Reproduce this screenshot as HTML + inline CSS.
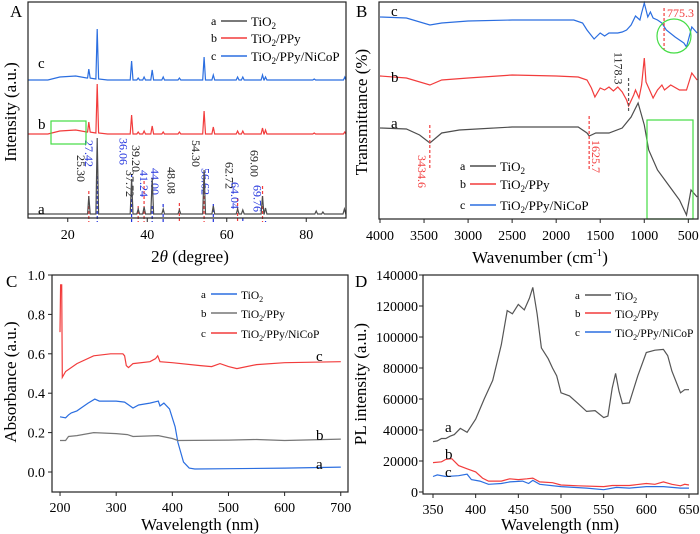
<!DOCTYPE html>
<html><head><meta charset="utf-8"><style>
html,body{margin:0;padding:0;background:#fff;}
svg{display:block;font-family:"Liberation Serif",serif;}
</style></head><body>
<svg id="fig" width="700" height="534" viewBox="0 0 700 534"></svg>
<script>
// ---------- DATA ----------
const xrdAPeakPos=[25.3,27.42,36.06,37.72,39.2,41.24,44.0,48.08,54.3,56.62,62.72,64.04,69.0,69.76,82.5,84.2,89.6];
const xrdAPeakH=[18,76,35,5,7,36,5,4,44,8,5,4,18,6,3,2,5];
const xrdBPeakPos=[25.3,27.42,36.06,37.72,39.2,41.24,44.0,48.08,54.3,56.62,62.72,64.04,69.0,69.76,82.0,89.7];
const xrdBPeakH=[10,49,19,2,3,8,2,2,23,7,3,3,6,4,1,2];
const xrdCPeakPos=[25.3,27.42,36.06,37.72,39.2,41.24,44.0,48.08,54.3,56.62,62.72,64.04,69.0,69.76,82.0,89.7];
const xrdCPeakH=[9,50,19,2,3,10,3,2,23,5,3,3,5,3,1,3];
const xrdBaseX=[10,15,18,22,25,30,50,90];
const xrdABase=[4,4,4,4,4,4,4,4];
const xrdBBase=[84,84,87,88,86,84,84,84];
const xrdCBase=[138,138,141,142,140,138,138,138];
const xrdLabels=["25.30","27.42","36.06","37.72","39.20","41.24","44.00","48.08","54.30","56.62","62.72","64.04","69.00","69.76"];
const xrdLabelPos=[25.3,27.42,36.06,37.72,39.2,41.24,44.0,48.08,54.3,56.62,62.72,64.04,69.0,69.76];
const xrdLabelTop=[155,140,138,170,145,170,168,167,140,168,162,182,150,185];
const xrdLabelBlue=[0,1,1,0,0,1,1,0,0,1,0,1,0,1];
const xrdTicks=[20,40,60,80];
const ftX_a=[4000,3700,3550,3434,3300,3100,2500,1750,1650,1625,1550,1400,1250,1150,1070,1000,950,850,700,600,520,470,400];
const ftY_a=[91,90,84,76,86,89,92,92,86,83,86,86,91,102,116,94,69,49,31,19,4,29,22];
const ftX_b=[4000,3700,3434,3300,3000,2500,2000,1750,1650,1600,1560,1500,1450,1400,1350,1300,1250,1200,1178,1120,1100,1060,1030,1000,980,950,900,850,800,770,700,600,520,460,400];
const ftY_b=[143,141,134,139,141,144,143,142,139,131,122,131,129,132,128,132,127,119,113,124,129,121,134,161,137,131,121,129,134,129,134,129,129,146,139];
const ftX_c=[4000,3700,3434,3300,3000,2500,1800,1700,1650,1570,1500,1450,1400,1300,1250,1200,1150,1100,1050,1030,1000,960,930,900,850,800,750,650,550,520,460,400];
const ftY_c=[202,201,194,196,198,199,199,196,189,180,186,183,186,186,187,189,194,203,199,206,216,202,207,201,199,196,189,182,176,172,192,186];
const ftTicks=[4000,3500,3000,2500,2000,1500,1000,500];
const uvX_a=[200,210,215,220,230,240,250,262,270,300,315,330,340,360,375,378,385,395,405,410,420,430,440,500,600,700];
const uvY_a=[0.28,0.275,0.29,0.30,0.31,0.33,0.35,0.37,0.36,0.36,0.355,0.325,0.34,0.35,0.36,0.335,0.35,0.32,0.23,0.15,0.05,0.02,0.015,0.017,0.02,0.025];
const uvX_b=[200,210,215,230,260,300,320,330,375,400,410,500,550,600,700];
const uvY_b=[0.16,0.16,0.18,0.185,0.2,0.195,0.19,0.18,0.185,0.17,0.16,0.162,0.165,0.16,0.167];
const uvX_c=[200,201,203,204,210,230,260,290,312,315,318,322,330,360,370,374,378,400,450,470,485,500,515,550,600,700];
const uvY_c=[0.71,0.95,0.95,0.48,0.51,0.55,0.59,0.60,0.60,0.59,0.54,0.53,0.55,0.56,0.575,0.59,0.56,0.555,0.54,0.535,0.55,0.535,0.525,0.545,0.555,0.56];
const uvXTicks=[200,300,400,500,600,700];
const uvYTicks=[0.0,0.2,0.4,0.6,0.8,1.0];
const plX_a=[350,355,360,365,370,375,382,390,400,410,420,430,437,443,450,457,463,467,472,477,485,490,495,500,510,520,530,540,550,555,560,564,568,572,580,590,600,610,620,625,630,640,645,650];
const plY_a=[32500,33000,34500,34500,36000,37000,41000,38500,47000,60000,72000,95000,117000,115000,121000,117500,125000,132000,115000,93000,86000,80000,75000,64000,62000,57000,52000,52500,48000,49000,67000,76500,65000,57000,57500,75000,90000,91500,92000,88000,78000,64000,66000,66000];
const plX_b=[350,360,365,372,380,390,400,408,415,430,440,450,460,467,475,490,500,520,550,560,580,600,610,620,630,640,645,650];
const plY_b=[19000,19500,21000,21500,17000,15000,13000,9000,7000,7000,8500,8000,8500,9000,6500,6000,4500,4000,3500,4200,4200,5500,5000,6500,5000,4000,5000,4500];
const plX_c=[350,355,365,380,390,395,405,415,430,440,455,462,467,475,500,530,550,565,580,600,620,640,650];
const plY_c=[10000,11000,10000,10500,11500,8000,7000,5000,5500,6500,7000,5500,7500,5000,3500,2500,1500,3000,2500,3500,3500,2500,2500];
const plXTicks=[350,400,450,500,550,600,650];
const plYTicks=[0,20000,40000,60000,80000,100000,120000,140000];

// ---------- HELPERS ----------
const NS="http://www.w3.org/2000/svg";
const svg=document.getElementById('fig');
const GRAY="#4d4d4d",RED="#f23c3c",BLUE="#2b6ee0",GREEN="#44dd44";
function mk(tag,attrs,parent){const e=document.createElementNS(NS,tag);for(const k in attrs)e.setAttribute(k,attrs[k]);(parent||svg).appendChild(e);return e;}
function txt(s,attrs,parent){const e=mk('text',attrs,parent);e.textContent=s;return e;}
function lin(d0,d1,r0,r1){return v=>r0+(v-d0)*(r1-r0)/(d1-d0);}
function pathD(xs,ys,sx,sy){return xs.map((x,i)=>(i?'L':'M')+sx(x).toFixed(1)+','+sy(ys[i]).toFixed(1)).join('');}
function sub(t,s){
  const parts=s.split('2');
  t.appendChild(document.createTextNode(parts[0]));
  const ts=document.createElementNS(NS,'tspan');ts.setAttribute('font-size','0.7em');ts.setAttribute('dy','3');ts.textContent='2';t.appendChild(ts);
  const ts2=document.createElementNS(NS,'tspan');ts2.setAttribute('dy','-3');ts2.textContent=parts.slice(1).join('2');t.appendChild(ts2);
}
function legend(g,x,ys,names,colors,fs,tfs){
  names.forEach((n,i)=>{
    const e=mk('g',{},g);
    
    
    txt(['a','b','c'][i],{x:x,y:ys[i]+4,'font-size':fs},e);
    mk('line',{x1:x+10,x2:x+36,y1:ys[i],y2:ys[i],stroke:colors[i],'stroke-width':1.5},e);
    const t=mk('text',{x:x+40,y:ys[i]+5,'font-size':tfs},e);sub(t,n);
  });
}
function box(g,x0,y0,x1,y1){mk('rect',{x:x0,y:y0,width:x1-x0,height:y1-y0,fill:'none',stroke:'#222','stroke-width':1.2},g);}
const NAMES=['TiO2','TiO2/PPy','TiO2/PPy/NiCoP'];

// ---------- PANEL A ----------
(function(){
  const g=mk('g',{});  
  const sx=lin(10,90,28,346), sy=lin(0,216,218,2);
  function series(bx,by,pp,ph){
    let pts=[];
    function base(x){for(let i=0;i<bx.length-1;i++){if(x>=bx[i]&&x<=bx[i+1])return by[i]+(by[i+1]-by[i])*(x-bx[i])/(bx[i+1]-bx[i]);}return by[by.length-1];}
    bx.forEach(x=>pts.push([x,base(x)]));
    pp.forEach((p,i)=>{pts.push([p-0.35,base(p)]);pts.push([p,base(p)+ph[i]]);pts.push([p+0.35,base(p)]);});
    pts.sort((a,b)=>a[0]-b[0]);
    return [pts.map(p=>p[0]),pts.map(p=>p[1])];
  }
  const sa=series(xrdBaseX,xrdABase,xrdAPeakPos,xrdAPeakH);
  const sb=series(xrdBaseX,xrdBBase,xrdBPeakPos,xrdBPeakH);
  const sc=series(xrdBaseX,xrdCBase,xrdCPeakPos,xrdCPeakH);
  xrdLabels.forEach((l,i)=>{
    const x=sx(xrdLabelPos[i]); const c=xrdLabelBlue[i]?'#2233dd':'#222';
    const dl=mk('line',{x1:x,x2:x,y1:xrdLabelTop[i]+36,y2:222,stroke:xrdLabelBlue[i]?'#2233dd':RED,'stroke-width':1.2,'stroke-dasharray':'3,2'},g);
     
    const t=txt(l,{x:0,y:0,'font-size':12,fill:c,transform:`translate(${x-12},${xrdLabelTop[i]}) rotate(90)`},g);
     
  });
  let p=mk('path',{d:pathD(sa[0],sa[1],sx,sy),fill:'none',stroke:GRAY,'stroke-width':1.2},g);
   
  p=mk('path',{d:pathD(sb[0],sb[1],sx,sy),fill:'none',stroke:RED,'stroke-width':1.2},g);
   
  p=mk('path',{d:pathD(sc[0],sc[1],sx,sy),fill:'none',stroke:BLUE,'stroke-width':1.2},g);
   
  mk('rect',{x:51,y:121,width:35,height:23,fill:'none',stroke:GREEN,'stroke-width':1.2},g);
  box(g,28,2,346,218);
  xrdTicks.forEach(v=>{mk('line',{x1:sx(v),x2:sx(v),y1:218,y2:222,stroke:'#222'},g);txt(v,{x:sx(v),y:239,'font-size':14,'text-anchor':'middle'},g);});
  txt('c',{x:38,y:68,'font-size':15},g);txt('b',{x:38,y:129,'font-size':15},g);txt('a',{x:38,y:214,'font-size':15},g);
  const xt=mk('text',{x:190,y:262,'font-size':17,'text-anchor':'middle'},g);
  xt.innerHTML='2<tspan font-style="italic">θ</tspan> (degree)';
   
  const yt=txt('Intensity (a.u.)',{x:0,y:0,'font-size':17,'text-anchor':'middle',transform:'translate(16,112) rotate(-90)'},g);
   
  legend(g,211,[21,38,56],NAMES,[GRAY,RED,BLUE],12,13);
  txt('A',{x:10,y:17,'font-size':17},g);
})();

// ---------- PANEL B ----------
(function(){
  const g=mk('g',{});  
  const sx=lin(4000,390,380,698), sy=lin(0,217,219,2);
  let p=mk('path',{d:pathD(ftX_a,ftY_a,sx,sy),fill:'none',stroke:GRAY,'stroke-width':1.2},g);
   
  p=mk('path',{d:pathD(ftX_b,ftY_b,sx,sy),fill:'none',stroke:RED,'stroke-width':1.2},g);
   
  p=mk('path',{d:pathD(ftX_c,ftY_c,sx,sy),fill:'none',stroke:BLUE,'stroke-width':1.2},g);
   
  mk('line',{x1:sx(3434.6),x2:sx(3434.6),y1:125,y2:168,stroke:RED,'stroke-width':1.2,'stroke-dasharray':'3,2'},g);
  txt('3434.6',{x:0,y:0,'font-size':12,fill:RED,transform:`translate(${sx(3434.6)-12},155) rotate(90)`},g);
  mk('line',{x1:sx(1625.7),x2:sx(1625.7),y1:116,y2:170,stroke:RED,'stroke-width':1.2,'stroke-dasharray':'3,2'},g);
  txt('1625.7',{x:0,y:0,'font-size':12,fill:RED,transform:`translate(${sx(1625.7)+3},140) rotate(90)`},g);
  mk('line',{x1:sx(1178.3),x2:sx(1178.3),y1:78,y2:112,stroke:'#555','stroke-width':1.2,'stroke-dasharray':'3,2'},g);
  txt('1178.3',{x:0,y:0,'font-size':12,fill:'#222',transform:`translate(${sx(1178.3)-14},52) rotate(90)`},g);
  mk('line',{x1:sx(775.3),x2:sx(775.3),y1:8,y2:50,stroke:RED,'stroke-width':1.2,'stroke-dasharray':'3,2'},g);
  txt('775.3',{x:sx(775.3)+3,y:17,'font-size':12,fill:RED},g);
  mk('circle',{cx:674,cy:36,r:17,fill:'none',stroke:GREEN,'stroke-width':1.2},g);
  mk('rect',{x:647,y:120,width:46,height:99,fill:'none',stroke:GREEN,'stroke-width':1.2},g);
  box(g,379,2,698,219);
  ftTicks.forEach(v=>{mk('line',{x1:sx(v),x2:sx(v),y1:219,y2:223,stroke:'#222'},g);txt(v,{x:sx(v),y:240,'font-size':14,'text-anchor':'middle'},g);});
  txt('c',{x:391,y:16,'font-size':15},g);txt('b',{x:391,y:82,'font-size':15},g);txt('a',{x:391,y:128,'font-size':15},g);
  const xt=mk('text',{x:540,y:263,'font-size':17,'text-anchor':'middle'},g);
  xt.innerHTML='Wavenumber (cm<tspan font-size="11" dy="-7">-1</tspan><tspan dy="7">)</tspan>';
   
  const yt=txt('Transmittance (%)',{x:0,y:0,'font-size':17,'text-anchor':'middle',transform:'translate(367,112) rotate(-90)'},g);
   
  legend(g,460,[166,184,205],NAMES,[GRAY,RED,BLUE],12,13);
  txt('B',{x:356,y:17,'font-size':17},g);
})();

// ---------- PANEL C ----------
(function(){
  const g=mk('g',{});  
  const sx=lin(185.7,712.9,52,348), sy=lin(0,1,472,275);
  let p=mk('path',{d:pathD(uvX_a,uvY_a,sx,sy),fill:'none',stroke:BLUE,'stroke-width':1.2},g);
   
  p=mk('path',{d:pathD(uvX_b,uvY_b,sx,sy),fill:'none',stroke:'#777','stroke-width':1.2},g);
   
  p=mk('path',{d:pathD(uvX_c,uvY_c,sx,sy),fill:'none',stroke:RED,'stroke-width':1.2},g);
   
  box(g,52,275,348,492);
  uvXTicks.forEach(v=>{mk('line',{x1:sx(v),x2:sx(v),y1:492,y2:496,stroke:'#222'},g);txt(v,{x:sx(v),y:512,'font-size':14,'text-anchor':'middle'},g);});
  uvYTicks.forEach(v=>{mk('line',{x1:48,x2:52,y1:sy(v),y2:sy(v),stroke:'#222'},g);txt(v.toFixed(1),{x:45,y:sy(v)+5,'font-size':14,'text-anchor':'end'},g);});
  txt('c',{x:316,y:361,'font-size':15},g);txt('b',{x:316,y:440,'font-size':15},g);txt('a',{x:316,y:469,'font-size':15},g);
  const xt=txt('Wavelength (nm)',{x:200,y:530,'font-size':17,'text-anchor':'middle'},g);
   
  const yt=txt('Absorbance (a.u.)',{x:0,y:0,'font-size':17,'text-anchor':'middle',transform:'translate(16,382) rotate(-90)'},g);
   
  legend(g,201,[294,313,333],NAMES,[BLUE,'#777',RED],11,11.5);
  txt('C',{x:6,y:287,'font-size':17},g);
})();

// ---------- PANEL D ----------
(function(){
  const g=mk('g',{});  
  const sx=lin(350,650,433,689), sy=lin(0,140000,492,275);
  let p=mk('path',{d:pathD(plX_a,plY_a,sx,sy),fill:'none',stroke:'#555','stroke-width':1.2},g);
   
  p=mk('path',{d:pathD(plX_b,plY_b,sx,sy),fill:'none',stroke:RED,'stroke-width':1.2},g);
   
  p=mk('path',{d:pathD(plX_c,plY_c,sx,sy),fill:'none',stroke:BLUE,'stroke-width':1.2},g);
   
  box(g,423,275,698,494);
  plXTicks.forEach(v=>{mk('line',{x1:sx(v),x2:sx(v),y1:494,y2:498,stroke:'#222'},g);txt(v,{x:sx(v),y:514,'font-size':14,'text-anchor':'middle'},g);});
  plYTicks.forEach(v=>{mk('line',{x1:419,x2:423,y1:sy(v),y2:sy(v),stroke:'#222'},g);txt(v,{x:418,y:sy(v)+5,'font-size':14,'text-anchor':'end'},g);});
  txt('a',{x:445,y:432,'font-size':15},g);txt('b',{x:445,y:459,'font-size':15},g);txt('c',{x:445,y:477,'font-size':15},g);
  const xt=txt('Wavelength (nm)',{x:560,y:530,'font-size':17,'text-anchor':'middle'},g);
   
  const yt=txt('PL intensity (a.u.)',{x:0,y:0,'font-size':17,'text-anchor':'middle',transform:'translate(366,384) rotate(-90)'},g);
   
  legend(g,575,[295,313,332],NAMES,['#555',RED,BLUE],11,11.5);
  txt('D',{x:355,y:287,'font-size':17},g);
})();
</script>
</body></html>
